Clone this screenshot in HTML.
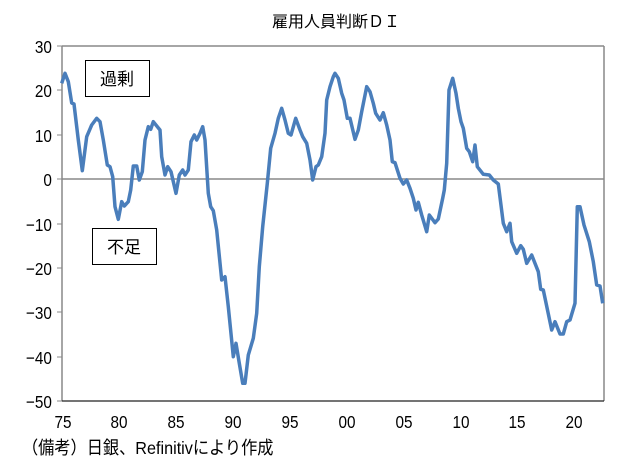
<!DOCTYPE html>
<html><head><meta charset="utf-8"><style>
body{margin:0;background:#fff;}
svg{display:block;font-family:"Liberation Sans","Noto Sans CJK JP",sans-serif;}
</style></head><body>
<svg width="632" height="476" viewBox="0 0 632 476">
<rect width="632" height="476" fill="#fff"/>
<text x="336" y="27" font-size="16" text-anchor="middle" fill="#000">雇用人員判断ＤＩ</text>
<line x1="62" y1="46" x2="604" y2="46" stroke="#888" stroke-width="1.5"/>
<line x1="604" y1="46" x2="604" y2="401" stroke="#888" stroke-width="1.5"/>
<line x1="62" y1="179" x2="604" y2="179" stroke="#888" stroke-width="1.5"/>
<line x1="62" y1="46" x2="62" y2="401" stroke="#888" stroke-width="1.5"/>
<line x1="62" y1="401" x2="604" y2="401" stroke="#222" stroke-width="1.2"/>
<g stroke="#888" stroke-width="1">
<line x1="57" y1="46" x2="62" y2="46"/><line x1="57" y1="90" x2="62" y2="90"/><line x1="57" y1="135" x2="62" y2="135"/><line x1="57" y1="179" x2="62" y2="179"/><line x1="57" y1="224" x2="62" y2="224"/><line x1="57" y1="268" x2="62" y2="268"/><line x1="57" y1="312" x2="62" y2="312"/><line x1="57" y1="357" x2="62" y2="357"/><line x1="57" y1="401" x2="62" y2="401"/>
</g>
<g font-size="18" text-anchor="end" fill="#000" transform="scale(0.85,1)">
<text x="61" y="53">30</text><text x="61" y="97">20</text><text x="61" y="142">10</text><text x="61" y="186">0</text><text x="61" y="231">−10</text><text x="61" y="275">−20</text><text x="61" y="319">−30</text><text x="61" y="364">−40</text><text x="61" y="408">−50</text>
</g>
<g font-size="18" text-anchor="middle" fill="#000">
<text transform="translate(63,428) scale(0.85,1)">75</text><text transform="translate(119,428) scale(0.85,1)">80</text><text transform="translate(176,428) scale(0.85,1)">85</text><text transform="translate(233,428) scale(0.85,1)">90</text><text transform="translate(290,428) scale(0.85,1)">95</text><text transform="translate(347,428) scale(0.85,1)">00</text><text transform="translate(404,428) scale(0.85,1)">05</text><text transform="translate(461,428) scale(0.85,1)">10</text><text transform="translate(517,428) scale(0.85,1)">15</text><text transform="translate(574,428) scale(0.85,1)">20</text>
</g>
<text transform="translate(22,454) scale(0.9,1)" font-size="18" fill="#000">（備考）日銀、Refinitivにより作成</text>
<rect x="85.5" y="60.5" width="64" height="36" fill="#fff" stroke="#000" stroke-width="1"/>
<text x="117" y="85" font-size="17" text-anchor="middle">過剰</text>
<rect x="92.5" y="228.5" width="64" height="36" fill="#fff" stroke="#000" stroke-width="1"/>
<text x="124" y="253" font-size="17" text-anchor="middle">不足</text>
<polyline fill="none" stroke="#4a7ebb" stroke-width="3.5" stroke-linejoin="round" points="61.7,83.3 65,73.3 68.3,81.7 71.7,103 74,104 78.3,140 82.3,170.7 86.7,136.7 91.7,125 96.7,118.3 100,121.7 103.3,140 107.3,165 110,166.7 112.7,176.7 115,206.7 118.3,219.3 121.7,201.7 124.3,206 128.3,201.7 130.7,190 133.3,166 136.7,166 139.3,180 142.3,171.7 145,140 148.3,126.7 150.7,129.3 153.3,121.7 160,130 161.7,156.7 165,175 167.7,166.7 171,171.7 176,193.3 179.3,175 182.7,170 185,175 188.3,170 191,141.7 194.3,135 196.7,140 200,133.3 202.7,126.7 205,140 208.3,193.3 210.7,206.7 213.3,210.7 216.7,230 221.7,280 225,276.7 228.3,306.7 233.3,356.7 236,343.3 239.3,363.3 242.7,383.3 245,383.3 248.3,355 253.3,338.3 256.7,313.3 259.3,266.7 262.7,226.7 267.3,183.3 270.7,148.3 275,133.3 278.3,118.3 281.7,108.3 285,120 288.3,133.3 291,135 295.7,118.3 300,130 302.7,136.7 306.7,143.3 310,160 312.7,180 316,166.7 318.3,165 321.7,156.7 325,133.3 326.7,100 330,86.7 333.3,76.7 335,73.3 338.3,78.3 341.7,93.3 344,100 347.3,118.3 350,118.3 355,139.3 358.3,130 361.7,111.7 366.7,86.7 370,91.7 373.3,103.3 375.7,113.3 380,120 383.3,112.7 386.7,125 390,140 392.3,161.7 395,162.7 400,178.3 403.3,184 406.7,180 410,188.3 413.3,198.3 416,210 418.3,202.3 421.7,215 426.7,231.7 429.3,215 435,222.7 438.3,219 442.7,198.3 444.3,190 446.7,163.3 449,90 452.7,78.3 456,93.3 458.3,108.3 461,121.7 463.3,128.3 466.7,148.3 469.3,151.7 472.7,161.7 475,145 477.3,166.7 483.3,174.3 489.3,175 493.3,180 498.3,184 503.3,223.3 506.7,231.7 510,223.3 511.7,241.7 516.7,253.3 520.7,245.7 523.3,249.3 526.7,263.3 531.7,255 538.3,271.7 540.7,289.3 543.3,290 551.7,330 555,321.7 560,334 563.3,334 566.7,321.7 570,320 575,303.3 577.3,206.7 580,206.7 584,225 589.3,241.7 593.3,261.7 596.7,285 600,286 602.7,303.3"/>
</svg>
</body></html>
